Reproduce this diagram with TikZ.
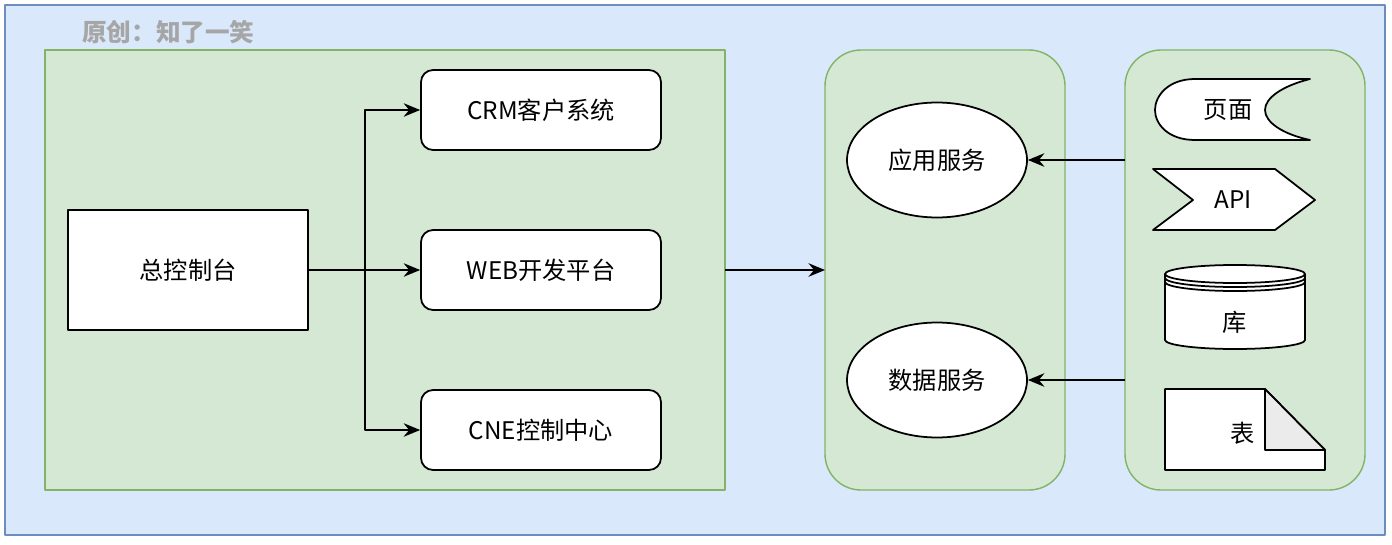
\documentclass[tikz,border=0pt]{standalone}
\usepackage{fontspec}
\setmainfont{Noto Sans CJK SC}
\usetikzlibrary{arrows.meta,shapes.geometric}
\definecolor{outerfill}{HTML}{DAE8FC}
\definecolor{outerline}{HTML}{6C8EBF}
\definecolor{grnfill}{HTML}{D5E8D4}
\definecolor{grnline}{HTML}{82B366}
\definecolor{titlegray}{HTML}{A6A6A6}
\definecolor{foldgray}{HTML}{EBEBEB}
\begin{document}
\begin{tikzpicture}[x=0.02cm,y=-0.02cm,line join=round,
	every node/.style={font=\fontsize{13.8}{16}\selectfont},
	panel/.style={draw=grnline,fill=grnfill,line width=0.8pt},
	sysbox/.style={draw,fill=white,line width=1pt,rounded corners=0.24cm,minimum width=4.8cm,minimum height=1.6cm,inner sep=0pt},
	svc/.style={draw,fill=white,line width=1pt,ellipse,minimum width=3.6cm,minimum height=2.3cm,inner sep=0pt},
	shp/.style={draw,fill=white,line width=1pt},
	link/.style={line width=1pt,-{Stealth[length=3.3mm,width=2.7mm,inset=1.1mm]}}]
	\useasboundingbox (0,0) rectangle (1392,544);
	\fill[white] (0,0) rectangle (1392,544);
	\draw[outerline,fill=outerfill,line width=0.8pt] (5,5) rectangle (1385,535);
	\node[anchor=west,text=titlegray,font=\fontsize{14}{16}\selectfont\bfseries] (title) at (76,32) {原创：知了一笑};
	% panels
	\draw[panel] (45,50) rectangle (725,490);
	\draw[panel,rounded corners=0.72cm] (825,50) rectangle (1065,490);
	\draw[panel,rounded corners=0.72cm] (1125,50) rectangle (1365,490);
	\path
	(725,270) coordinate (leftout)
	(825,270) coordinate (midin)
	(1125,160) coordinate (appsrc)
	(1125,380) coordinate (datasrc);
	% left part
	\node[draw,fill=white,line width=1pt,minimum width=4.8cm,minimum height=2.4cm,inner sep=0pt] (ctrl) at (188,270) {总控制台};
	\node[sysbox] (crm) at (541,110) {CRM客户系统};
	\node[sysbox] (web) at (541,270) {WEB开发平台};
	\node[sysbox] (cne) at (541,430) {CNE控制中心};
	\coordinate (fork) at (365,270);
	\draw[link] (ctrl) -- (web);
	\draw[link] (fork) |- (crm);
	\draw[link] (fork) |- (cne);
	\draw[link] (leftout) -- (midin);
	% services
	\node[svc] (app) at (937,160) {应用服务};
	\node[svc] (data) at (937,380) {数据服务};
	\draw[link] (appsrc) -- (app);
	\draw[link] (datasrc) -- (data);
	% resources
	\draw[shp] (1195,79) -- (1310,79) .. controls (1282,86) and (1265,98) .. (1265,110) .. controls (1265,122) and (1282,134) .. (1310,140) -- (1195,140) .. controls (1168,140) and (1155,124) .. (1155,110) .. controls (1155,96) and (1168,79) .. (1195,79) -- cycle;
	\node (page) at (1228,110) {页面};
	\draw[shp] (1153,169) -- (1275,169) -- (1315,200) -- (1275,230) -- (1153,230) -- (1193,200) -- cycle;
	\node (api) at (1233,200) {API};
	\draw[shp] (1165,274) -- (1165,340) arc[start angle=180,end angle=0,x radius=70,y radius=9] -- (1305,274) arc[start angle=0,end angle=-180,x radius=70,y radius=9] -- cycle;
	\draw[line width=1pt] (1165,274) arc[start angle=180,end angle=0,x radius=70,y radius=9];
	\foreach \dy in {4,8}{
		\draw[line width=1pt] (1165,274+\dy) arc[start angle=180,end angle=0,x radius=70,y radius=9];
	}
	\node (db) at (1235,322) {库};
	\draw[shp] (1165,389) -- (1265,389) -- (1325,450) -- (1325,470) -- (1165,470) -- cycle;
	\draw[line width=1pt,fill=foldgray] (1265,389) -- (1265,450) -- (1325,450) -- cycle;
	\node (tbl) at (1243,433) {表};
\end{tikzpicture}
\end{document}
